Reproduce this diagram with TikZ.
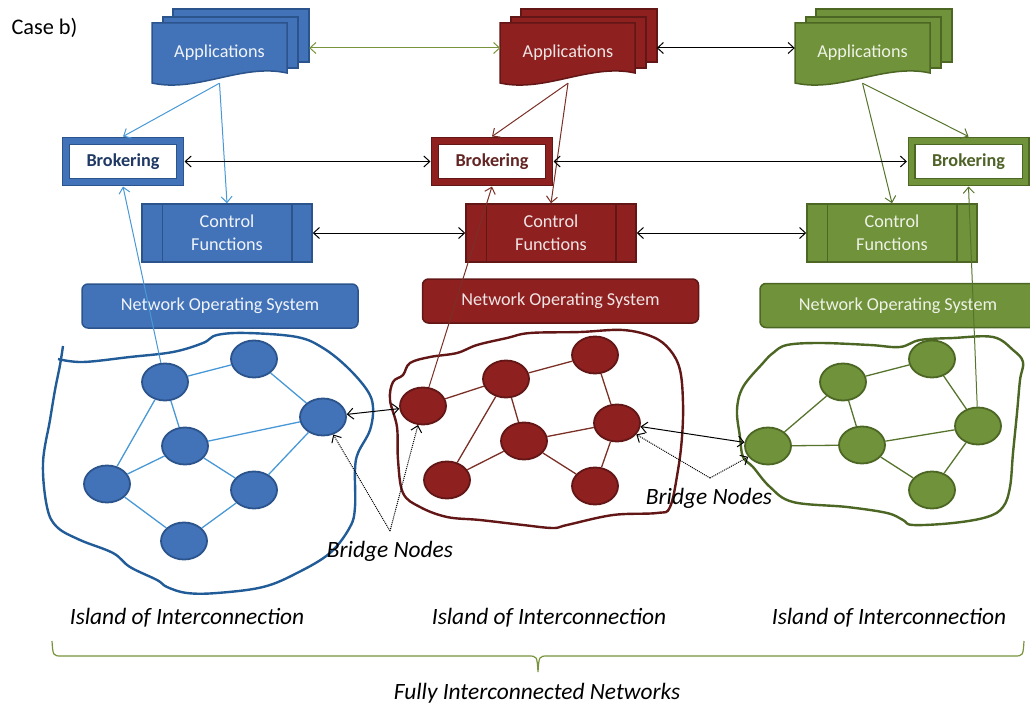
\documentclass[tikz,border=0pt]{standalone}
\usepackage{fontspec}
\setmainfont{Carlito}
\usepackage{xcolor}
\usepackage{tikz}
\usetikzlibrary{positioning,arrows.meta,shapes.geometric,calc}

\definecolor{bluefill}{RGB}{66,114,184}
\definecolor{blueline}{RGB}{44,84,140}
\definecolor{bluelink}{RGB}{72,152,214}
\definecolor{blueisle}{RGB}{34,92,152}
\definecolor{bluetxt}{RGB}{31,56,100}
\definecolor{redfill}{RGB}{142,32,32}
\definecolor{redline}{RGB}{98,22,22}
\definecolor{redlink}{RGB}{122,48,38}
\definecolor{redtxt}{RGB}{99,37,35}
\definecolor{greenfill}{RGB}{112,146,58}
\definecolor{greenline}{RGB}{76,102,36}
\definecolor{greenlink}{RGB}{86,116,44}
\definecolor{greentxt}{RGB}{79,98,40}
\definecolor{bracecol}{RGB}{119,147,60}

\tikzset{
  flow/.style={-{Straight Barb[length=6pt,width=11pt]}, line width=1pt},
  twoway/.style={{Straight Barb[length=6pt,width=11pt]}-{Straight Barb[length=6pt,width=11pt]}, line width=1pt, draw=black},
  appstack/.pic={
    \path[pic actions] (21,-14) rectangle (157,39);
    \path[pic actions] (11,-6) rectangle (146,45);
    \path[pic actions] (0,0) -- (135,0) -- (135,50) .. controls (90,40) and (45,70) .. (0,60) -- cycle;
  }
}

\begin{document}
\begin{tikzpicture}[
    x=1pt, y=-1pt,
    font=\fontsize{18.2}{23}\selectfont,
    apptxt/.style={minimum width=135pt, minimum height=60pt, inner sep=0pt},
    broker/.style={minimum width=114pt, minimum height=41pt, fill=white, line width=1.2pt,
      double distance=5.6pt, outer sep=4.5pt, font=\fontsize{18.2}{21}\selectfont\bfseries},
    ctrl/.style={minimum width=170pt, minimum height=58pt, line width=1.5pt, align=center, inner sep=0pt},
    nos/.style={minimum width=276pt, minimum height=44pt, rounded corners=6pt, line width=1.5pt},
    net/.style={ellipse, minimum width=46pt, minimum height=37pt, inner sep=0pt, line width=1.8pt},
    isle/.style={line width=2.4pt},
    islabel/.style={font=\fontsize{23.4}{27}\selectfont\itshape}
  ]
  \useasboundingbox (0,0) rectangle (1030,706);

  \node[anchor=west, font=\fontsize{22.3}{25}\selectfont] (case) at (8,28) {Case b)};

  % islands of interconnection
  \draw[isle, blueisle] plot[smooth, tension=0.6] coordinates {(63,346) (60,365) (55,390) (50,420) (43,463)
    (47,507) (57,527) (80,540) (113,553) (130,567) (157,580) (167,587) (187,593) (217,593) (263,587)
    (297,573) (330,553) (350,527) (355,507) (355,470) (358,453) (370,430) (373,407) (367,390) (347,367)
    (323,348) (297,337) (247,333) (217,335) (203,343) (173,352) (130,357) (83,362) (58,359)};
  \draw[isle, redline] plot[smooth cycle, tension=0.6] coordinates {(393,382) (403,375) (410,363) (430,357)
    (457,353) (477,345) (507,338) (530,333) (580,332) (623,330) (653,337) (670,350) (680,370) (683,403)
    (682,437) (678,470) (670,507) (657,513) (613,515) (567,525) (553,528) (523,525) (480,520) (447,517)
    (420,507) (403,493) (398,460) (397,427) (390,400)};
  \draw[isle, greenline] plot[smooth cycle, tension=0.6] coordinates {(787,345) (820,343) (870,345) (900,347)
    (920,340) (953,338) (993,337) (1013,350) (1023,362) (1020,380) (1017,413) (1013,453) (1010,487)
    (1003,507) (987,517) (953,523) (913,525) (903,520) (887,513) (847,507) (793,502) (770,487) (753,467)
    (743,457) (740,437) (737,410) (743,387) (763,363) (773,353)};

  % network nodes
  \node[net, fill=bluefill, draw=blueline] (b1) at (165,382) {};
  \node[net, fill=bluefill, draw=blueline] (b2) at (254,359) {};
  \node[net, fill=bluefill, draw=blueline] (b3) at (323,417) {};
  \node[net, fill=bluefill, draw=blueline] (b4) at (185,446) {};
  \node[net, fill=bluefill, draw=blueline] (b5) at (107,484) {};
  \node[net, fill=bluefill, draw=blueline] (b6) at (254,490) {};
  \node[net, fill=bluefill, draw=blueline] (b7) at (184,541) {};

  \node[net, fill=redfill, draw=redline] (r1) at (423,406) {};
  \node[net, fill=redfill, draw=redline] (r2) at (506,379) {};
  \node[net, fill=redfill, draw=redline] (r3) at (595,355) {};
  \node[net, fill=redfill, draw=redline] (r4) at (617,423) {};
  \node[net, fill=redfill, draw=redline] (r5) at (524,441) {};
  \node[net, fill=redfill, draw=redline] (r6) at (447,480) {};
  \node[net, fill=redfill, draw=redline] (r7) at (595,486) {};

  \node[net, fill=greenfill, draw=greenline] (g1) at (768,446) {};
  \node[net, fill=greenfill, draw=greenline] (g2) at (843,382) {};
  \node[net, fill=greenfill, draw=greenline] (g3) at (932,359) {};
  \node[net, fill=greenfill, draw=greenline] (g4) at (978,426) {};
  \node[net, fill=greenfill, draw=greenline] (g5) at (862,445) {};
  \node[net, fill=greenfill, draw=greenline] (g6) at (932,490) {};

  % links inside each island
  \foreach \a/\b in {b1/b2, b2/b3, b1/b4, b1/b5, b4/b3, b4/b5, b4/b6, b6/b3, b5/b7, b7/b6}
    \draw[bluelink, line width=1.3pt] (\a) -- (\b);
  \foreach \a/\b in {r1/r2, r2/r3, r2/r5, r2/r6, r3/r4, r5/r4, r5/r6, r5/r7, r4/r7}
    \draw[redlink, line width=1.3pt] (\a) -- (\b);
  \foreach \a/\b in {g1/g2, g1/g5, g2/g5, g2/g3, g3/g4, g5/g4, g4/g6, g5/g6}
    \draw[greenlink, line width=1.3pt] (\a) -- (\b);

  % application stacks
  \pic[fill=bluefill, draw=blueline, line width=1.5pt] at (152,23) {appstack};
  \pic[fill=redfill, draw=redline, line width=1.5pt] at (500,23) {appstack};
  \pic[fill=greenfill, draw=greenline, line width=1.5pt] at (795,23) {appstack};
  \node[apptxt, text=white!92!bluefill] (appB) at (219.5,53) {Applications};
  \node[apptxt, text=white!88!redfill] (appR) at (568,53) {Applications};
  \node[apptxt, text=white!88!greenfill] (appG) at (862.5,53) {Applications};

  % brokering
  \node[broker, draw=blueline, double=bluefill, text=bluetxt] (brokerB) at (123,161.5) {Brokering};
  \node[broker, draw=redline, double=redfill, text=redtxt] (brokerR) at (492,161.5) {Brokering};
  \node[broker, draw=greenline, double=greenfill, text=greentxt] (brokerG) at (968.5,161.5) {Brokering};

  % control functions
  \node[ctrl, fill=bluefill, draw=blueline, text=white!92!bluefill] (ctrlB) at (227,233) {Control\\Functions};
  \node[ctrl, fill=redfill, draw=redline, text=white!88!redfill] (ctrlR) at (551,233) {Control\\Functions};
  \node[ctrl, fill=greenfill, draw=greenline, text=white!88!greenfill] (ctrlG) at (892,233) {Control\\Functions};
  \foreach \c/\col in {ctrlB/blueline, ctrlR/redline, ctrlG/greenline} {
    \draw[\col, line width=1.5pt] ([xshift=21pt]\c.north west) -- ([xshift=21pt]\c.south west);
    \draw[\col, line width=1.5pt] ([xshift=-21pt]\c.north east) -- ([xshift=-21pt]\c.south east);
  }

  % network operating system
  \node[nos, fill=bluefill, draw=blueline, text=white!92!bluefill] (nosB) at (220,306) {Network Operating System};
  \node[nos, fill=redfill, draw=redline, text=white!88!redfill] (nosR) at (560.5,301) {Network Operating System};
  \node[nos, fill=greenfill, draw=greenline, text=white!88!greenfill] (nosG) at (898,305.5) {Network Operating System};

  % applications to brokering and control
  \draw[flow, bluelink] (appB.south) -- (brokerB.north);
  \draw[flow, bluelink] (appB.south) -- (ctrlB.north);
  \draw[flow, redlink] (appR.south) -- (brokerR.north);
  \draw[flow, redlink] (appR.south) -- (ctrlR.north);
  \draw[flow, greenlink] (appG.south) -- (brokerG.north);
  \draw[flow, greenlink] (appG.south) -- (ctrlG.north);

  % nodes up to brokering
  \draw[flow, bluelink] (b1) -- (brokerB.south);
  \draw[flow, redlink] (r1) -- (brokerR.south);
  \draw[flow, greenlink] (g4) -- (brokerG.south);

  % horizontal links between islands
  \draw[twoway, draw=bracecol] ([shift={(22pt,5pt)}]appB.east) -- ([yshift=5pt]appR.west);
  \draw[twoway] ([shift={(21pt,5pt)}]appR.east) -- ([yshift=5pt]appG.west);
  \draw[twoway] (brokerB.east) -- (brokerR.west);
  \draw[twoway] (brokerR.east) -- (brokerG.west);
  \draw[twoway] (ctrlB.east) -- (ctrlR.west);
  \draw[twoway] (ctrlR.east) -- (ctrlG.west);

  % bridge nodes
  \draw[twoway] (b3) -- (r1);
  \draw[twoway] (r4) -- (g1);
  \node[islabel] (bridgeA) at (390,551) {Bridge Nodes};
  \node[islabel] (bridgeB) at (709,498) {Bridge Nodes};
  \coordinate (apexA) at (390,531);
  \coordinate (apexB) at (710,478);
  \draw[flow, densely dotted] (apexA) -- (b3);
  \draw[flow, densely dotted] (apexA) -- (r1);
  \draw[flow, densely dotted] (apexB) -- (r4);
  \draw[flow, densely dotted] (apexB) -- (g1);

  % captions
  \node[islabel] (isleB) at (187,618) {Island of Interconnection};
  \node[islabel] (isleR) at (549,618) {Island of Interconnection};
  \node[islabel] (isleG) at (889,618) {Island of Interconnection};
  \draw[bracecol, line width=1.2pt] (52,641) .. controls (53,656) .. (62,656) -- (528,656)
    .. controls (537,656) .. (538,672) .. controls (539,656) .. (548,656) -- (1014,656)
    .. controls (1023,656) .. (1024,641);
  \node[islabel] (fully) at (537,693) {Fully Interconnected Networks};

\end{tikzpicture}
\end{document}
